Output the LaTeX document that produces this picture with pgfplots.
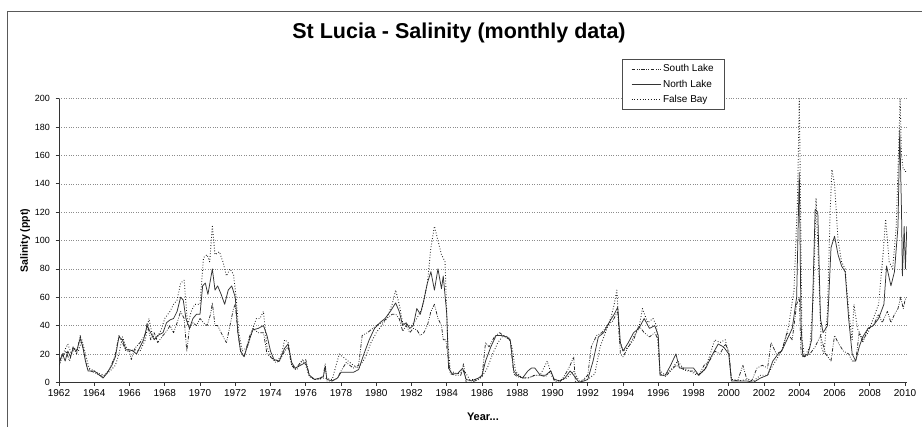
\documentclass[border=0pt]{standalone}
\usepackage{pgfplots}
\pgfplotsset{compat=1.18}
\usepackage{fontspec}
\setmainfont{Liberation Sans}
\begin{document}
\begin{tikzpicture}[x=1pt,y=1pt]
\useasboundingbox (0,0) rectangle (922,-427);
\draw[line width=1.4pt, color=black!65] (7.5,-427) -- (7.5,-11.5) -- (922,-11.5);
\node[font=\bfseries\fontsize{21.5}{24}\selectfont, anchor=base] at (459,-39) {St Lucia - Salinity (monthly data)};
\begin{axis}[
  at={(59pt,-382.3pt)}, anchor=south west,
  scale only axis, width=847.8pt, height=283.6pt,
  xmin=1962, xmax=2010.1, ymin=0, ymax=200,
  xtick={1962,1964,...,2010}, ytick={0,20,...,200},
  axis x line*=bottom, axis y line*=left,
  axis line style={-, black!80, line width=0.8pt},
  tick align=outside, major tick length=3.5pt,
  tick style={black!80, line width=0.6pt},
  ymajorgrids, grid style={dotted, black!45, line width=0.5pt},
  /pgf/number format/1000 sep=,
  /pgf/number format/assume math mode=true,
  xticklabel style={font=\fontsize{10}{11}\selectfont},
  yticklabel style={font=\fontsize{9}{10}\selectfont, xshift=-2pt},
  ylabel={\bfseries Salinity (ppt)}, ylabel style={font=\fontsize{10.5}{11}\selectfont, at={(axis description cs:-0.030,0.5)}},
  xlabel={\bfseries Year...}, xlabel style={font=\fontsize{11}{12}\selectfont, at={(axis description cs:0.5,-0.095)}},
  legend style={at={(axis description cs:0.664,1.140)}, anchor=north west, draw=black!70, fill=white,
    font=\fontsize{10}{11}\selectfont, legend cell align=left, row sep=2.5pt, inner xsep=9pt, inner ysep=3.5pt},
  legend image code/.code={\draw[#1] (0pt,0pt) -- (29pt,0pt);},
  every axis plot/.append style={line width=0.75pt, line join=round},
]
% South Lake
\addplot[black!85, dash pattern=on 3.5pt off 1.5pt on 0.8pt off 1.5pt on 0.8pt off 1.5pt] coordinates {
(1962.0,12)(1962.2,18)(1962.4,22)(1962.6,15)(1962.8,25)(1963.0,20)(1963.2,33)(1963.4,22)(1963.6,10)(1963.8,8)
(1964.0,7)(1964.3,5)(1964.5,4)(1964.8,8)(1965.0,13)(1965.2,20)(1965.4,33)(1965.6,28)(1965.8,22)(1966.0,22)
(1966.1,16)(1966.3,24)(1966.6,28)(1966.9,34)(1967.0,42)(1967.2,30)(1967.4,35)(1967.6,28)(1967.9,33)(1968.1,36)
(1968.3,40)(1968.5,35)(1968.7,42)(1968.9,50)(1969.1,45)(1969.25,22)(1969.4,38)(1969.6,42)(1969.8,40)(1970.0,45)
(1970.2,42)(1970.4,40)(1970.6,48)(1970.7,56)(1970.85,40)(1971.0,40)(1971.2,35)(1971.4,30)(1971.5,28)(1971.7,40)
(1971.9,52)(1972.0,55)(1972.15,35)(1972.3,22)(1972.5,18)(1972.8,32)(1973.0,38)(1973.3,35)(1973.6,35)(1973.8,20)
(1974.0,18)(1974.3,14)(1974.5,15)(1974.8,22)(1975.0,25)(1975.2,12)(1975.4,9)(1975.7,14)(1976.0,16)(1976.2,5)
(1976.5,2)(1976.8,2)(1977.0,5)(1977.1,13)(1977.2,1)(1977.5,1)(1977.8,3)(1978.0,8)(1978.3,14)(1978.5,12)
(1978.7,10)(1979.0,12)(1979.2,33)(1979.5,35)(1979.8,38)(1980.0,40)(1980.3,42)(1980.6,45)(1980.9,48)(1981.1,48)
(1981.3,45)(1981.5,36)(1981.7,40)(1981.9,35)(1982.1,38)(1982.3,37)(1982.5,33)(1982.7,35)(1982.9,40)(1983.1,50)
(1983.3,55)(1983.5,45)(1983.7,40)(1983.8,30)(1983.95,30)(1984.05,20)(1984.2,6)(1984.5,5)(1984.8,5)(1984.95,13)
(1985.1,0)(1985.4,0)(1985.8,2)(1986.0,4)(1986.2,28)(1986.4,25)(1986.7,32)(1987.0,35)(1987.3,32)(1987.6,30)
(1987.8,6)(1988.0,4)(1988.3,3)(1988.6,3)(1989.0,5)(1989.3,5)(1989.6,4)(1989.9,8)(1990.1,1)(1990.4,0)
(1990.7,5)(1991.0,12)(1991.2,18)(1991.3,0)(1991.6,0)(1992.0,5)(1992.2,25)(1992.5,33)(1992.8,35)(1993.1,40)
(1993.4,43)(1993.7,50)(1993.85,20)(1994.0,18)(1994.3,25)(1994.6,30)(1994.9,40)(1995.2,35)(1995.5,32)(1995.8,35)
(1996.0,30)(1996.1,6)(1996.4,4)(1996.7,8)(1997.0,12)(1997.3,10)(1997.6,8)(1998.0,8)(1998.3,5)(1998.6,12)
(1998.9,15)(1999.2,22)(1999.5,20)(1999.8,27)(2000.0,22)(2000.15,2)(2000.5,1)(2000.8,12)(2001.0,3)(2001.3,1)
(2001.6,10)(2001.9,12)(2002.2,10)(2002.4,28)(2002.7,20)(2003.0,22)(2003.3,35)(2003.6,30)(2003.85,55)(2004.0,60)
(2004.1,20)(2004.3,18)(2004.6,20)(2004.9,25)(2005.2,33)(2005.5,20)(2005.8,15)(2006.0,33)(2006.2,28)(2006.5,22)
(2006.8,20)(2007.0,15)(2007.2,15)(2007.4,35)(2007.6,28)(2007.9,38)(2008.2,40)(2008.5,48)(2008.7,42)(2009.0,50)
(2009.2,42)(2009.4,48)(2009.6,52)(2009.75,60)(2009.9,52)(2010.0,58)(2010.1,60)
};
\addlegendentry{South Lake}
% North Lake
\addplot[black!80, solid] coordinates {
(1962.0,13)(1962.2,20)(1962.35,15)(1962.5,22)(1962.65,18)(1962.8,24)(1963.0,22)(1963.2,31)(1963.35,25)(1963.5,15)
(1963.65,8)(1964.0,8)(1964.2,6)(1964.5,3)(1964.7,6)(1965.0,12)(1965.2,18)(1965.4,32)(1965.6,30)(1965.8,23)
(1966.0,23)(1966.2,22)(1966.4,20)(1966.6,25)(1966.8,30)(1967.0,40)(1967.2,35)(1967.4,30)(1967.6,33)(1967.9,35)
(1968.1,42)(1968.3,44)(1968.5,45)(1968.7,50)(1968.9,60)(1969.05,58)(1969.2,45)(1969.4,38)(1969.6,45)(1969.8,48)
(1970.0,48)(1970.15,68)(1970.3,70)(1970.45,62)(1970.7,80)(1970.85,65)(1971.0,68)(1971.2,62)(1971.4,55)(1971.6,65)
(1971.8,68)(1972.0,60)(1972.15,35)(1972.3,22)(1972.5,18)(1972.8,30)(1973.0,37)(1973.3,38)(1973.6,40)(1973.8,33)
(1974.0,22)(1974.2,16)(1974.5,15)(1974.8,24)(1975.0,27)(1975.2,14)(1975.4,10)(1975.7,12)(1976.0,14)(1976.2,5)
(1976.5,2)(1976.8,3)(1977.0,4)(1977.1,11)(1977.2,2)(1977.5,1)(1977.8,3)(1978.0,7)(1978.3,7)(1978.7,7)
(1979.0,9)(1979.3,20)(1979.6,30)(1979.9,38)(1980.2,42)(1980.5,45)(1980.8,50)(1981.1,56)(1981.3,50)(1981.5,40)
(1981.7,42)(1981.9,38)(1982.1,40)(1982.3,52)(1982.5,48)(1982.7,58)(1982.9,70)(1983.1,78)(1983.3,65)(1983.5,80)
(1983.7,66)(1983.8,75)(1984.0,48)(1984.1,10)(1984.3,6)(1984.6,6)(1984.9,10)(1985.1,2)(1985.4,1)(1985.8,3)
(1986.0,5)(1986.2,15)(1986.5,25)(1986.8,33)(1987.1,33)(1987.4,32)(1987.6,30)(1987.8,8)(1988.0,5)(1988.3,3)
(1988.6,8)(1988.8,10)(1989.0,10)(1989.3,5)(1989.6,5)(1989.9,8)(1990.1,2)(1990.4,1)(1990.7,3)(1991.0,8)
(1991.2,5)(1991.5,0)(1991.8,1)(1992.0,2)(1992.3,15)(1992.6,32)(1992.9,35)(1993.2,42)(1993.5,48)(1993.7,53)
(1993.85,28)(1994.0,22)(1994.3,28)(1994.6,35)(1994.9,38)(1995.2,45)(1995.5,38)(1995.8,40)(1996.0,33)(1996.1,5)
(1996.4,5)(1996.7,12)(1997.0,20)(1997.2,10)(1997.6,10)(1998.0,10)(1998.3,5)(1998.7,10)(1999.0,18)(1999.4,27)
(1999.7,25)(2000.0,20)(2000.15,1)(2000.6,1)(2001.0,1)(2001.4,0)(2001.8,3)(2002.2,5)(2002.5,15)(2002.8,20)
(2003.0,22)(2003.3,30)(2003.6,38)(2003.85,60)(2004.0,148)(2004.1,40)(2004.2,18)(2004.5,20)(2004.7,30)(2004.9,122)
(2005.05,120)(2005.2,45)(2005.35,35)(2005.6,40)(2005.8,95)(2006.0,103)(2006.2,90)(2006.4,82)(2006.6,78)(2006.8,45)
(2007.0,20)(2007.2,15)(2007.4,25)(2007.6,32)(2007.9,38)(2008.2,40)(2008.5,45)(2008.8,55)(2008.95,82)(2009.2,68)
(2009.4,78)(2009.6,110)(2009.7,178)(2009.8,120)(2009.85,75)(2009.95,110)(2010.02,80)(2010.1,110)
};
\addlegendentry{North Lake}
% False Bay
\addplot[black!90, dotted, line width=0.9pt] coordinates {
(1962.0,15)(1962.3,22)(1962.5,27)(1962.7,20)(1962.9,24)(1963.1,22)(1963.3,30)(1963.5,20)(1963.7,10)(1964.0,8)
(1964.3,6)(1964.6,5)(1964.9,8)(1965.2,12)(1965.4,20)(1965.6,32)(1965.8,25)(1966.0,22)(1966.3,23)(1966.6,22)
(1966.9,30)(1967.1,45)(1967.3,33)(1967.5,30)(1967.8,37)(1968.0,45)(1968.3,50)(1968.5,55)(1968.7,58)(1968.9,70)
(1969.1,72)(1969.3,40)(1969.5,50)(1969.7,55)(1970.0,55)(1970.2,88)(1970.4,90)(1970.55,85)(1970.7,110)(1970.85,90)
(1971.1,92)(1971.3,85)(1971.5,75)(1971.7,80)(1971.9,76)(1972.05,60)(1972.2,35)(1972.4,22)(1972.7,25)(1973.0,38)
(1973.2,45)(1973.4,45)(1973.6,50)(1973.8,25)(1974.0,18)(1974.3,15)(1974.6,18)(1974.8,30)(1975.0,28)(1975.2,12)
(1975.5,9)(1975.8,16)(1976.0,12)(1976.2,4)(1976.5,2)(1977.0,3)(1977.5,2)(1977.9,20)(1978.1,18)(1978.4,15)
(1978.7,12)(1979.0,10)(1979.4,18)(1979.7,28)(1980.0,35)(1980.3,40)(1980.6,45)(1980.9,55)(1981.1,65)(1981.3,55)
(1981.5,42)(1981.8,40)(1982.0,40)(1982.3,45)(1982.6,52)(1982.9,70)(1983.1,95)(1983.3,110)(1983.5,100)(1983.7,90)
(1983.9,85)(1984.05,30)(1984.2,8)(1984.6,6)(1985.0,8)(1985.3,2)(1985.7,2)(1986.0,4)(1986.3,10)(1986.6,20)
(1986.9,28)(1987.2,33)(1987.5,32)(1987.7,25)(1987.9,8)(1988.2,4)(1988.6,3)(1989.0,5)(1989.3,5)(1989.7,15)
(1990.0,3)(1990.4,1)(1990.8,3)(1991.2,8)(1991.5,1)(1992.0,2)(1992.4,6)(1992.7,25)(1993.0,35)(1993.3,45)
(1993.5,55)(1993.65,65)(1993.8,30)(1994.0,22)(1994.3,25)(1994.6,32)(1994.9,38)(1995.1,52)(1995.4,42)(1995.7,45)
(1995.9,40)(1996.1,8)(1996.4,5)(1996.8,10)(1997.1,15)(1997.4,10)(1997.8,8)(1998.2,5)(1998.6,8)(1998.9,18)
(1999.2,30)(1999.5,28)(1999.8,30)(2000.0,20)(2000.15,2)(2000.6,1)(2001.0,2)(2001.4,1)(2001.8,5)(2002.2,5)
(2002.5,12)(2002.8,18)(2003.1,25)(2003.4,40)(2003.7,65)(2003.9,130)(2004.0,200)(2004.05,150)(2004.15,30)(2004.3,18)
(2004.6,25)(2004.8,60)(2004.95,130)(2005.1,80)(2005.25,25)(2005.4,20)(2005.6,50)(2005.75,120)(2005.85,150)(2006.0,140)
(2006.2,100)(2006.4,85)(2006.6,80)(2006.8,50)(2007.0,30)(2007.1,55)(2007.3,38)(2007.6,30)(2007.9,35)(2008.2,45)
(2008.5,55)(2008.75,90)(2008.9,115)(2009.1,85)(2009.3,80)(2009.5,110)(2009.65,170)(2009.72,200)(2009.8,160)(2009.9,150)
(2010.0,150)(2010.05,148)
};
\addlegendentry{False Bay}
\end{axis}
\end{tikzpicture}
\end{document}
